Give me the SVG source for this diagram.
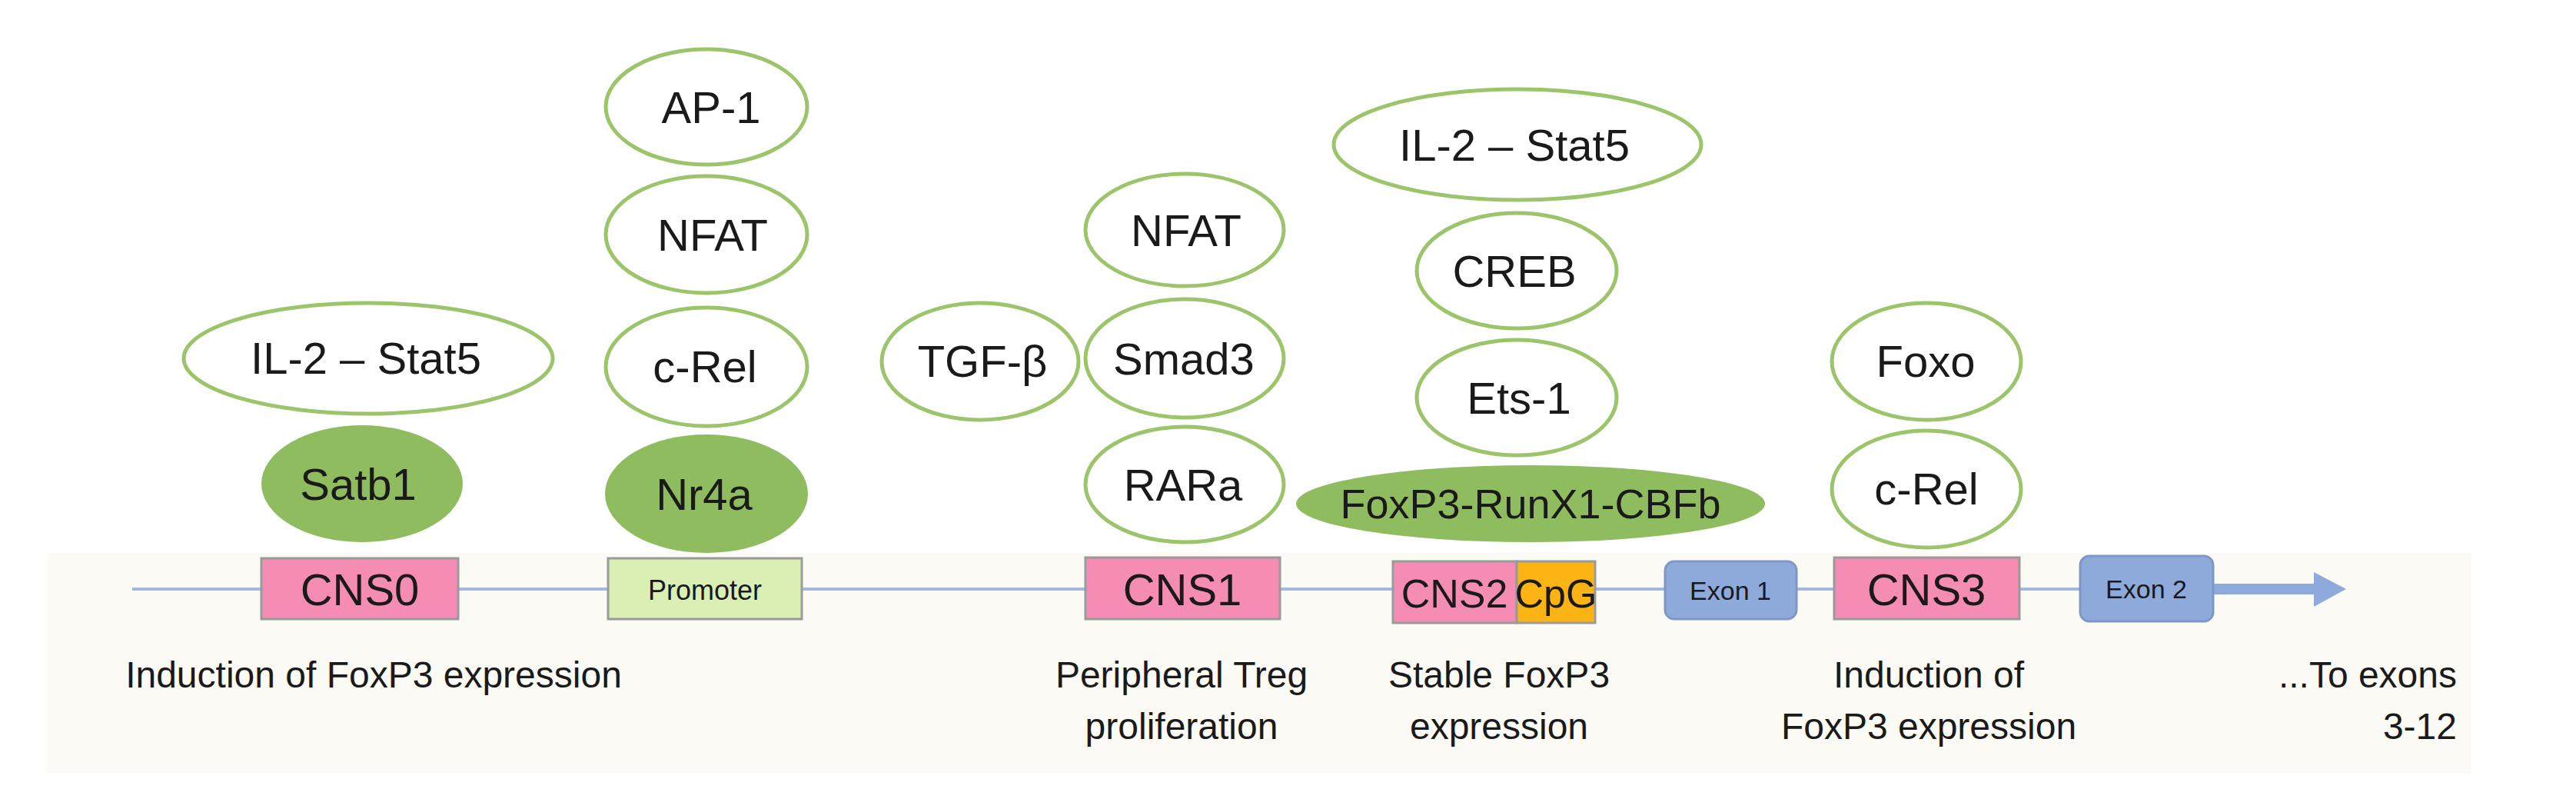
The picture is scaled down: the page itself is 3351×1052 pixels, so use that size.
<svg xmlns="http://www.w3.org/2000/svg" width="3351" height="1052" viewBox="0 0 3351 1052">
<style>
text{font-family:"Liberation Sans",Arial,sans-serif;fill:#1a1a1a;text-anchor:middle}
.o{fill:#fff;stroke:#9cc46a;stroke-width:5}
.f{fill:#8fbc5e}
.t{font-size:58px}
.box{stroke:#9a9a9a;stroke-width:3}
.cns{fill:#f48cb4}
.ex{fill:#8eaadb;stroke:#7f97c6;stroke-width:3}
.lab{font-size:48px}
</style>
<rect x="0" y="0" width="3351" height="1052" fill="#fff"/>
<rect x="60" y="719" width="3155" height="286" fill="#fbfaf5"/>
<g id="connectors">
<line x1="172" y1="766" x2="2886" y2="766" stroke="#a3b7e0" stroke-width="4"/>
<line x1="2880" y1="766" x2="3012" y2="766" stroke="#8eaadb" stroke-width="14"/>
<polygon points="3010,744 3052,766 3010,789" fill="#8eaadb"/>
</g>
<g id="cns0"><rect class="box cns" x="340" y="726" width="256" height="79"/><text class="t" x="468" y="787">CNS0</text></g>
<g id="promoter"><rect class="box" x="791" y="726" width="252" height="79" fill="#d9efb4" stroke="#8faa8f"/><text x="917" y="780" font-size="36">Promoter</text></g>
<g id="cns1"><rect class="box cns" x="1412" y="725" width="253" height="80"/><text class="t" x="1538" y="787">CNS1</text></g>
<g id="cns2"><rect class="box cns" x="1812" y="730" width="161" height="80"/><rect x="1973" y="730" width="102" height="80" fill="#fbb414" stroke="#9a9a9a" stroke-width="3"/><text x="1892" y="790" font-size="52">CNS2</text><text x="2024" y="790" font-size="52">CpG</text></g>
<g id="exon1"><rect class="ex" x="2166" y="730" width="171" height="75" rx="12"/><text x="2251" y="780" font-size="34">Exon 1</text></g>
<g id="cns3"><rect class="box cns" x="2386" y="725" width="241" height="80"/><text class="t" x="2506" y="787">CNS3</text></g>
<g id="exon2"><rect class="ex" x="2706" y="723" width="173" height="85" rx="12"/><text x="2792" y="778" font-size="34">Exon 2</text></g>

<g id="il2-stat5-a"><ellipse class="o" cx="479" cy="466" rx="240" ry="72"/><text class="t" x="476" y="486">IL-2 – Stat5</text></g>
<g id="satb1"><ellipse class="f" cx="471" cy="629" rx="131" ry="76"/><text class="t" x="466" y="650">Satb1</text></g>
<g id="ap1"><ellipse class="o" cx="919" cy="139" rx="131" ry="75"/><text class="t" x="925" y="160">AP-1</text></g>
<g id="nfat-a"><ellipse class="o" cx="919" cy="305" rx="131" ry="76"/><text class="t" x="927" y="326">NFAT</text></g>
<g id="crel-a"><ellipse class="o" cx="919" cy="477" rx="131" ry="77"/><text class="t" x="917" y="497">c-Rel</text></g>
<g id="nr4a"><ellipse class="f" cx="919" cy="642" rx="132" ry="77"/><text class="t" x="916" y="663">Nr4a</text></g>
<g id="tgfb"><ellipse class="o" cx="1275" cy="470" rx="128" ry="76"/><text class="t" x="1278" y="490">TGF-β</text></g>
<g id="nfat-b"><ellipse class="o" cx="1541" cy="299" rx="129" ry="73"/><text class="t" x="1543" y="320">NFAT</text></g>
<g id="smad3"><ellipse class="o" cx="1541" cy="466" rx="129" ry="77"/><text class="t" x="1540" y="487">Smad3</text></g>
<g id="rara"><ellipse class="o" cx="1541" cy="630" rx="129" ry="75"/><text class="t" x="1539" y="651">RARa</text></g>
<g id="il2-stat5-b"><ellipse class="o" cx="1974" cy="188" rx="239" ry="72"/><text class="t" x="1970" y="209">IL-2 – Stat5</text></g>
<g id="creb"><ellipse class="o" cx="1973" cy="352" rx="130" ry="75"/><text class="t" x="1970" y="373">CREB</text></g>
<g id="ets1"><ellipse class="o" cx="1973" cy="517" rx="130" ry="75"/><text class="t" x="1976" y="538">Ets-1</text></g>
<g id="foxp3-runx1-cbfb"><ellipse class="f" cx="1991" cy="655" rx="305" ry="50"/><text x="1991" y="674" font-size="54">FoxP3-RunX1-CBFb</text></g>
<g id="foxo"><ellipse class="o" cx="2506" cy="470" rx="123" ry="76"/><text class="t" x="2505" y="490">Foxo</text></g>
<g id="crel-b"><ellipse class="o" cx="2506" cy="636" rx="123" ry="76"/><text class="t" x="2506" y="656">c-Rel</text></g>

<g id="labels">
<text class="lab" x="486" y="894">Induction of FoxP3 expression</text>
<text class="lab" x="1537" y="894">Peripheral Treg</text>
<text class="lab" x="1537" y="961">proliferation</text>
<text class="lab" x="1950" y="894">Stable FoxP3</text>
<text class="lab" x="1950" y="961">expression</text>
<text class="lab" x="2509" y="894">Induction of</text>
<text class="lab" x="2509" y="961">FoxP3 expression</text>
<text class="lab" x="3196" y="894" style="text-anchor:end">...To exons</text>
<text class="lab" x="3196" y="961" style="text-anchor:end">3-12</text>
</g>
</svg>
